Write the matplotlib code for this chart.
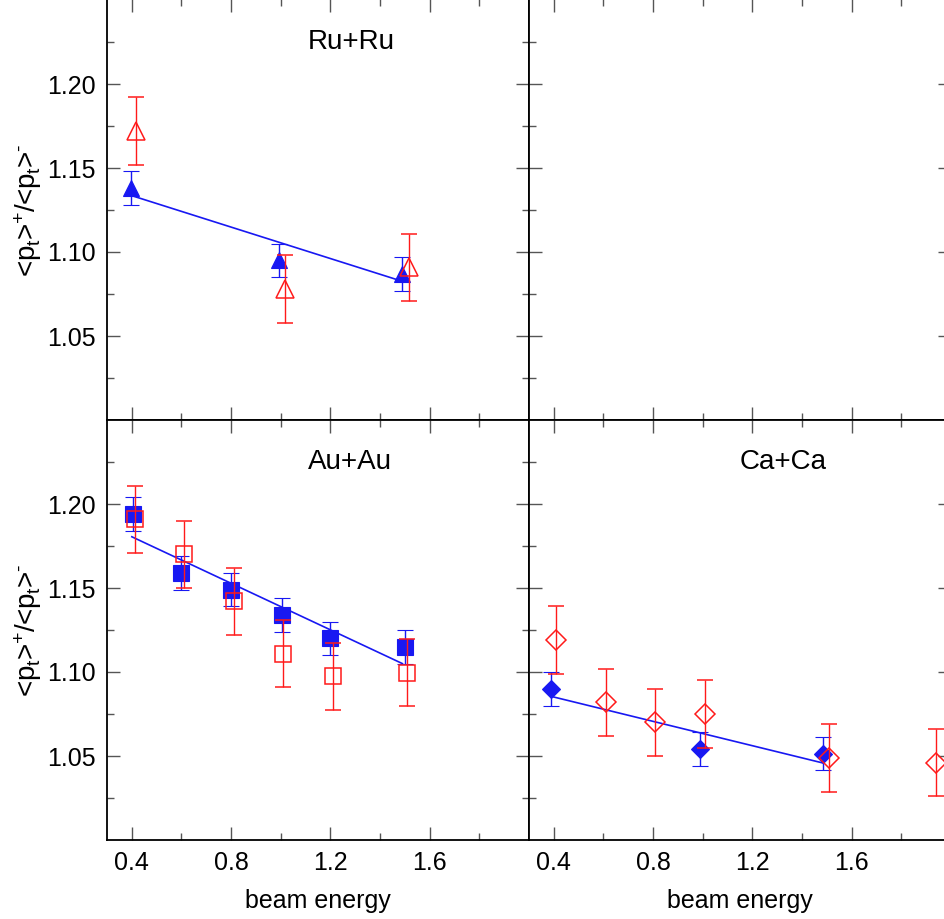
import matplotlib
matplotlib.use('Agg')
import matplotlib.pyplot as plt
from matplotlib.ticker import FixedLocator, NullFormatter

plt.rcParams['font.family'] = ['Liberation Sans', 'DejaVu Sans']
plt.rcParams['mathtext.fontset'] = 'custom'
plt.rcParams['mathtext.rm'] = 'Liberation Sans'
plt.rcParams['mathtext.it'] = 'Liberation Sans'
plt.rcParams['mathtext.bf'] = 'Liberation Sans:bold'

# ---------------- data ----------------
# Ru+Ru
ru_blue_x = [0.397, 0.992, 1.490]
ru_blue_y = [1.138, 1.095, 1.087]
ru_blue_err = [0.010, 0.010, 0.010]
ru_red_x = [0.417, 1.016, 1.515]
ru_red_y = [1.172, 1.078, 1.091]
ru_red_err = [0.020, 0.020, 0.020]
ru_fit_x = [0.39, 1.48]
ru_fit_y = [1.134, 1.083]

# Au+Au
au_blue_x = [0.403, 0.600, 0.800, 1.003, 1.200, 1.500]
au_blue_y = [1.194, 1.159, 1.149, 1.134, 1.120, 1.115]
au_blue_err = [0.010, 0.010, 0.010, 0.010, 0.010, 0.010]
au_red_x = [0.411, 0.610, 0.810, 1.011, 1.210, 1.510]
au_red_y = [1.191, 1.170, 1.142, 1.111, 1.0975, 1.0997]
au_red_err = [0.020, 0.020, 0.020, 0.020, 0.020, 0.020]
au_fit_x = [0.40, 1.49]
au_fit_y = [1.1805, 1.105]

# Ca+Ca
ca_blue_x = [0.389, 0.990, 1.486]
ca_blue_y = [1.090, 1.054, 1.0514]
ca_blue_err = [0.010, 0.010, 0.010]
ca_red_x = [0.410, 0.610, 0.807, 1.007, 1.510, 1.940]
ca_red_y = [1.119, 1.082, 1.070, 1.075, 1.0488, 1.046]
ca_red_err = [0.020, 0.020, 0.020, 0.020, 0.020, 0.020]
ca_fit_x = [0.389, 1.485]
ca_fit_y = [1.0855, 1.0458]

x_major = [0.4, 0.8, 1.2, 1.6]
x_minor = [0.6, 1.0, 1.4, 1.8]
x_labels = ['0.4', '0.8', '1.2', '1.6']
y_major = [1.05, 1.10, 1.15, 1.20]
y_minor = [1.025, 1.075, 1.125, 1.175, 1.225]
y_labels = ['1.05', '1.10', '1.15', '1.20']

YLABEL = (r'$\hspace{-0.22}<\hspace{-0.22}p_t{\hspace{-0.22}>\hspace{-0.22}}^{+}/'
          r'\hspace{-0.22}<\hspace{-0.22}p_t{\hspace{-0.22}>\hspace{-0.22}}^{' + '\u2010' + '}$')

BLUE = '#1818f2'
RED = '#ff1a1a'

W, H = 945, 919
fig = plt.figure(figsize=(W / 100, H / 100), dpi=100)

def px_axes(x0, y0, x1, y1):
    return fig.add_axes([x0 / W, 1 - y1 / H, (x1 - x0) / W, (y1 - y0) / H])

ax_ru = px_axes(107, -1, 529, 420)
ax_empty = px_axes(529, -1, 951, 420)
ax_au = px_axes(107, 420, 529, 840)
ax_ca = px_axes(529, 420, 951, 840)

def style(ax, xlab, ylab, top_extra=0.0):
    ax.set_xlim(0.3, 2.0)
    ax.set_ylim(1.0, 1.25 + top_extra)
    ax.xaxis.set_major_locator(FixedLocator(x_major))
    ax.xaxis.set_minor_locator(FixedLocator(x_minor))
    ax.yaxis.set_major_locator(FixedLocator(y_major))
    ax.yaxis.set_minor_locator(FixedLocator(y_minor))
    if xlab:
        ax.set_xticklabels(x_labels)
    else:
        ax.xaxis.set_major_formatter(NullFormatter())
    if ylab:
        ax.set_yticklabels(y_labels)
    else:
        ax.yaxis.set_major_formatter(NullFormatter())
    ax.tick_params(which='both', direction='in', top=True, right=True,
                   color='#555555', width=1.0, labelsize=18, pad=8)
    ax.tick_params(which='major', length=9.5)
    ax.tick_params(which='minor', length=5)
    for s in ax.spines.values():
        s.set_linewidth(1.3)
        s.set_color('black')
    if ylab:
        ax.set_ylabel(YLABEL, fontsize=20)
        ax.yaxis.set_label_coords(-0.150, 0.5)
    if xlab:
        ax.set_xlabel('beam energy', fontsize=18, va='top')
        ax.xaxis.set_label_coords(0.5, -0.117)

def draw(ax, bx, by, be, rx, ry, re, fx, fy, bm, rm, bms, rms):
    ax.plot(fx, fy, color=BLUE, lw=1.2, zorder=2)
    ax.errorbar(bx, by, yerr=be, fmt=bm, color=BLUE, ms=bms, mfc=BLUE, mec=BLUE,
                mew=0.8, elinewidth=1.0, capsize=6, capthick=1.0, zorder=3)
    ax.errorbar(rx, ry, yerr=re, fmt=rm, color=RED, ms=rms, mfc='none', mec=RED,
                mew=1.1, elinewidth=1.0, capsize=6, capthick=1.0, zorder=4)

style(ax_ru, False, True, 0.25 / 420)
style(ax_empty, False, False, 0.25 / 420)
style(ax_au, True, True)
style(ax_ca, True, False)

draw(ax_ru, ru_blue_x, ru_blue_y, ru_blue_err, ru_red_x, ru_red_y, ru_red_err,
     ru_fit_x, ru_fit_y, '^', '^', 12, 13)
draw(ax_au, au_blue_x, au_blue_y, au_blue_err, au_red_x, au_red_y, au_red_err,
     au_fit_x, au_fit_y, 's', 's', 12, 12)
draw(ax_ca, ca_blue_x, ca_blue_y, ca_blue_err, ca_red_x, ca_red_y, ca_red_err,
     ca_fit_x, ca_fit_y, 'D', 'D', 9.5, 10.5)

ax_ru.text(1.283, 1.225, 'Ru+Ru', fontsize=20, ha='center', va='center')
ax_au.text(1.280, 1.225, 'Au+Au', fontsize=20, ha='center', va='center')
ax_ca.text(1.322, 1.225, 'Ca+Ca', fontsize=20, ha='center', va='center')

fig.savefig('out.png', dpi=100)
